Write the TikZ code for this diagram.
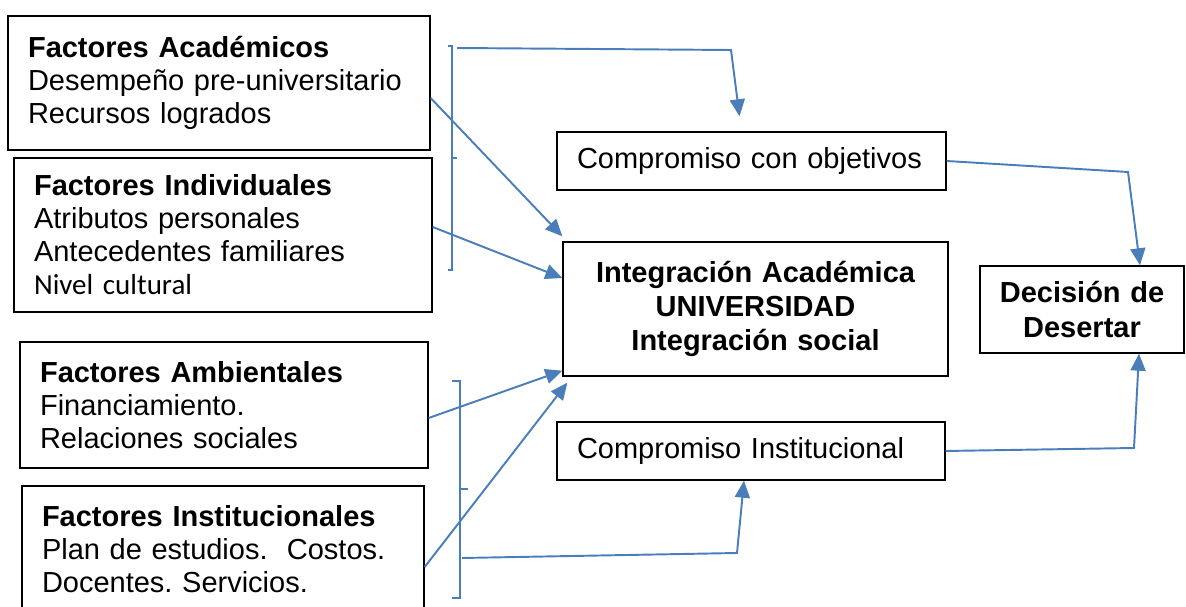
\documentclass[tikz,border=0pt]{standalone}
\usepackage{fontspec}
\setmainfont{Liberation Sans}
\newfontfamily\calibri{Carlito}
\usetikzlibrary{arrows.meta}
\definecolor{lineblue}{HTML}{4A7EBB}
\frenchspacing
\tikzset{>={Triangle[length=0.34cm,width=0.3cm]},
  box/.style={draw, line width=0.8pt, inner ysep=0pt, font=\fontsize{16.5}{18.8}\selectfont},
  factor/.style={box, align=left, inner xsep=0.4cm},
  core/.style={box, align=center, inner xsep=0.2cm, font=\fontsize{16.5}{19.5}\selectfont\bfseries},
  link/.style={lineblue, line width=1.1pt}
}

\begin{document}
\begin{tikzpicture}[x=0.02cm, y=-0.02cm]
    \useasboundingbox (0,0) rectangle (1186,607);
    \clip (0,0) rectangle (1186,607);
    % factores
    \node[factor, text width=7.64cm, minimum height=2.68cm] (acad) at (219,83)
        {\textbf{Factores Académicos}\\Desempeño pre-universitario\\Recursos logrados};
    \node[factor, text width=7.56cm, minimum height=3.08cm] (indiv) at (223,235)
        {\textbf{Factores Individuales}\\Atributos personales\\Antecedentes familiares\\{\calibri Nivel cultural}};
    \node[factor, text width=7.36cm, minimum height=2.52cm] (amb) at (224,405)
        {\textbf{Factores Ambientales}\\Financiamiento.\\Relaciones sociales};
    \node[factor, text width=7.24cm, minimum height=2.52cm] (inst) at (223,549)
        {\textbf{Factores Institucionales}\\Plan de estudios.\ \ Costos.\\Docentes. Servicios.};
    % compromisos e integracion
    \node[factor, text width=6.98cm, minimum height=1.16cm] (obj) at (751.5,161) {Compromiso con objetivos};
    \node[core, text width=7.3cm, minimum height=2.68cm] (integ) at (755.5,309)
        {Integración Académica\\UNIVERSIDAD\\Integración social};
    \node[factor, text width=6.96cm, minimum height=1.16cm] (comp) at (751,451) {Compromiso Institucional};
    \node[core, text width=3.68cm, minimum height=1.74cm] (decis) at (1082,309.5) {Decisión de\\Desertar};
    % llaves
    \draw[link] (448,46) -- (452,46) -- (452,270) -- (448,270) (452,158) -- (457,158);
    \draw[link] (452,381) -- (460,381) -- (460,598) -- (452,598) (460,489) -- (468,489);
    \coordinate (brA) at (457,48);
    \coordinate (brB) at (462,558);
    % flechas
    \draw[link, ->] (brA) -- (731,50) -- ([shift={(-12,-15)}]obj.north);
    \draw[link, ->] (acad.east |- 0,98) -- ([shift={(0,-5)}]integ.north west);
    \draw[link, ->] (indiv.east |- 0,227) -- (integ.west |- 0,278);
    \draw[link, ->] (amb.east |- 0,418) -- ([shift={(0,-6)}]integ.south west);
    \draw[link, ->] (inst.east |- 0,567) -- ([shift={(5,6)}]integ.south west);
    \draw[link, ->] (brB) -- (737,553) -- (comp.south -| 744,0);
    \draw[link, ->] (obj.east) -- (1128,172) -- (decis.north -| 1140,0);
    \draw[link, ->] (comp.east) -- (1134,448) -- (decis.south -| 1139,0);
\end{tikzpicture}
\end{document}
